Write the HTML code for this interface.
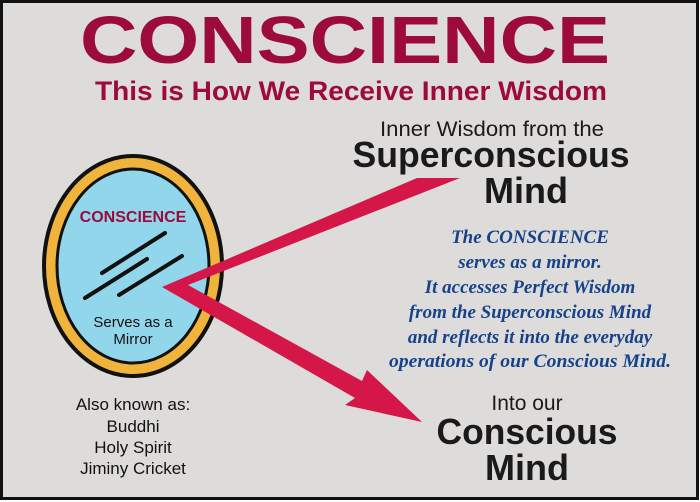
<!DOCTYPE html>
<html><head><meta charset="utf-8"><style>
html,body{margin:0;padding:0;background:#fff}
svg{display:block}
</style></head><body>
<svg width="700" height="502" viewBox="0 0 700 502" xmlns="http://www.w3.org/2000/svg">
<rect x="1.5" y="1.5" width="696" height="497" fill="#dedcdb" stroke="#111" stroke-width="3"/>
<text x="345" y="63" text-anchor="middle" font-family="Liberation Sans, sans-serif" font-weight="bold" font-size="67" fill="#9c0b3c" textLength="530" lengthAdjust="spacingAndGlyphs">CONSCIENCE</text>
<text x="351" y="100" text-anchor="middle" font-family="Liberation Sans, sans-serif" font-weight="bold" font-size="27" fill="#9c0b3c" textLength="512" lengthAdjust="spacingAndGlyphs">This is How We Receive Inner Wisdom</text>
<text x="492" y="136" text-anchor="middle" font-family="Liberation Sans, sans-serif" font-size="21" fill="#1a1a1a" textLength="224" lengthAdjust="spacingAndGlyphs">Inner Wisdom from the</text>
<text x="491" y="167" text-anchor="middle" font-family="Liberation Sans, sans-serif" font-weight="bold" font-size="36" fill="#1a1a1a" textLength="277" lengthAdjust="spacingAndGlyphs">Superconscious</text>
<text x="526" y="203" text-anchor="middle" font-family="Liberation Sans, sans-serif" font-weight="bold" font-size="36" fill="#1a1a1a">Mind</text>
<g font-family="Liberation Serif, serif" font-style="italic" font-weight="bold" font-size="19" fill="#15428a" text-anchor="middle">
<text x="530" y="243">The CONSCIENCE</text>
<text x="530" y="268">serves as a mirror.</text>
<text x="530" y="293">It accesses Perfect Wisdom</text>
<text x="530" y="318">from the Superconscious Mind</text>
<text x="530" y="343">and reflects it into the everyday</text>
<text x="530" y="367" textLength="282" lengthAdjust="spacingAndGlyphs">operations of our Conscious Mind.</text>
</g>
<text x="527" y="410" text-anchor="middle" font-family="Liberation Sans, sans-serif" font-size="21" fill="#1a1a1a">Into our</text>
<text x="527" y="444" text-anchor="middle" font-family="Liberation Sans, sans-serif" font-weight="bold" font-size="36" fill="#1a1a1a" textLength="181" lengthAdjust="spacingAndGlyphs">Conscious</text>
<text x="527" y="480" text-anchor="middle" font-family="Liberation Sans, sans-serif" font-weight="bold" font-size="36" fill="#1a1a1a">Mind</text>
<ellipse cx="133" cy="266" rx="89" ry="110" fill="#f0b43c" stroke="#111" stroke-width="4"/>
<ellipse cx="133" cy="266" rx="76" ry="97" fill="#92d6ec" stroke="#111" stroke-width="3"/>
<text x="133" y="222" text-anchor="middle" font-family="Liberation Sans, sans-serif" font-weight="bold" font-size="16" fill="#9c0b3c">CONSCIENCE</text>
<g stroke="#111" stroke-width="4" stroke-linecap="round">
<line x1="102" y1="273" x2="165" y2="233"/>
<line x1="85" y1="298" x2="147" y2="259"/>
<line x1="119" y1="295" x2="182" y2="256"/>
</g>
<text x="133" y="327" text-anchor="middle" font-family="Liberation Sans, sans-serif" font-size="15" fill="#111">Serves as a</text>
<text x="133" y="344" text-anchor="middle" font-family="Liberation Sans, sans-serif" font-size="15" fill="#111">Mirror</text>
<polygon points="162,287 417,178 460,178 188,285 362,381 367,370 422,422 345,405 355,398" fill="#d41748"/>
<g font-family="Liberation Sans, sans-serif" font-size="17" fill="#111" text-anchor="middle">
<text x="133" y="410">Also known as:</text>
<text x="133" y="432">Buddhi</text>
<text x="133" y="453">Holy Spirit</text>
<text x="133" y="474">Jiminy Cricket</text>
</g>
</svg>
</body></html>
